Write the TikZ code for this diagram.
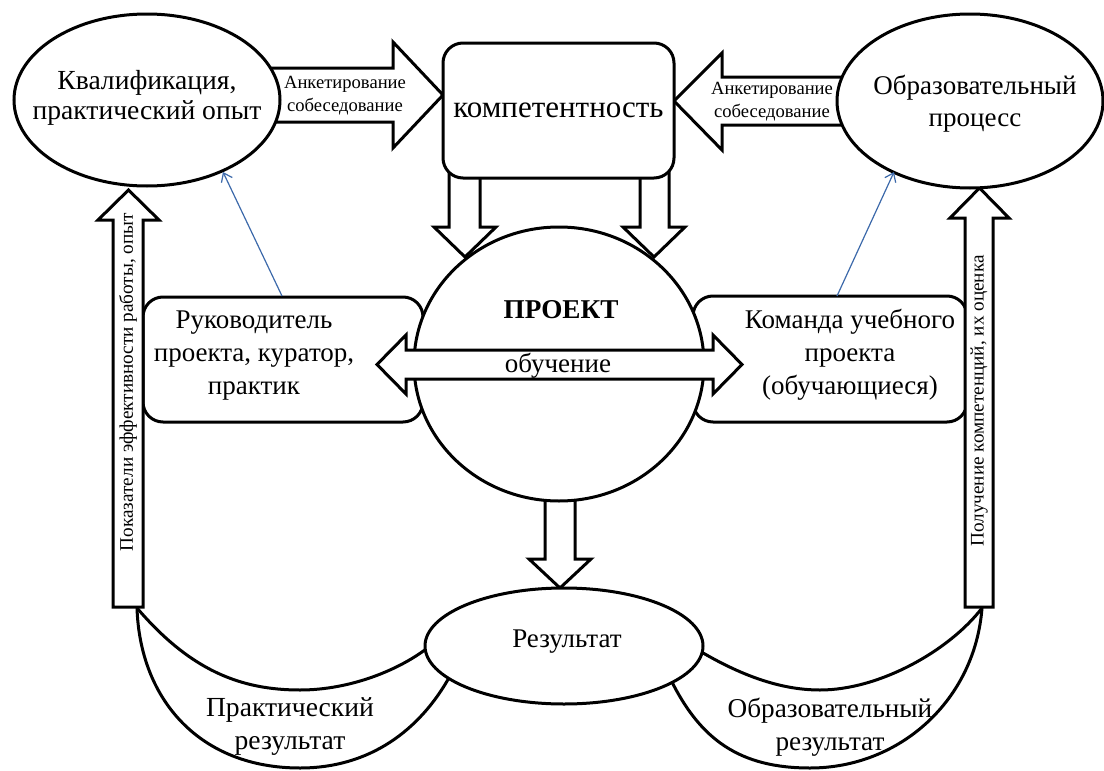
\documentclass[tikz,border=0pt]{standalone}
\usepackage{fontspec}
\setmainfont{Liberation Serif}
\usetikzlibrary{arrows.meta,shapes.geometric}
\definecolor{lineblue}{RGB}{60,105,170}
\begin{document}
\begin{tikzpicture}[x=0.5pt,y=0.5pt,
  blk/.style={draw=black, line width=1.5pt, fill=white, line join=miter},
  shapebox/.style={draw=black, line width=1.5pt, fill=white},
  ell/.style={shapebox, ellipse, inner sep=0pt},
  rbox/.style={shapebox, rectangle, rounded corners=10pt, inner sep=0pt},
  maintext/.style={font=\fontsize{13.8}{14.8}\selectfont, align=center},
  boxtext/.style={font=\fontsize{13.5}{16.5}\selectfont, align=center},
  smalltext/.style={font=\fontsize{9.3}{11.5}\selectfont, align=center},
  vtext/.style={font=\fontsize{9.6}{11}\selectfont, rotate=90},
  bluearrow/.style={draw=lineblue, line width=0.6pt, -{Straight Barb[length=4pt,width=6pt]}},
  curve/.style={draw=black, line width=1.5pt}
]
\useasboundingbox (0,0) rectangle (1104,-771);

% block arrows lying under shapes
\draw[blk] (260,-68) -- (393,-68) -- (393,-42) -- (443,-95) -- (393,-148) -- (393,-122) -- (260,-122) -- cycle;
\draw[blk] (860,-77) -- (722,-77) -- (722,-53) -- (674,-101) -- (722,-150) -- (722,-125) -- (860,-125) -- cycle;
\draw[blk] (449,-170) -- (449,-227) -- (434,-227) -- (465,-257) -- (496,-227) -- (480,-227) -- (480,-170) -- cycle;
\draw[blk] (640,-170) -- (640,-227) -- (623,-227) -- (654,-257) -- (685,-227) -- (669,-227) -- (669,-170) -- cycle;
\draw[blk] (545,-480) -- (545,-559) -- (529,-559) -- (560,-588) -- (591,-559) -- (575,-559) -- (575,-480) -- cycle;

% crescents
\draw[curve] (137,-608) .. controls (190,-670) and (240,-690) .. (300,-690) .. controls (350,-690) and (400,-670) .. (430,-646);
\draw[curve] (137,-608) .. controls (140,-700) and (200,-768) .. (300,-768) .. controls (370,-768) and (420,-730) .. (450,-676);
\draw[curve] (698,-650) .. controls (740,-675) and (780,-690) .. (820,-690) .. controls (880,-690) and (950,-650) .. (982,-608);
\draw[curve] (670,-678) .. controls (700,-740) and (740,-768) .. (810,-768) .. controls (900,-768) and (975,-700) .. (982,-608);

% side boxes
\node[rbox, minimum width=140pt, minimum height=62.5pt] (lrect) at (283,-359.5) {};
\node[rbox, minimum width=137pt, minimum height=63pt] (rrect) at (830,-359) {};
\node[rbox, minimum width=115.5pt, minimum height=67.5pt, font=\fontsize{15.5}{17}\selectfont] (komp) at (558.5,-110.5) {компетентность};

% vertical side arrows
\draw[blk] (113,-607) -- (113,-220) -- (98,-220) -- (128.5,-190) -- (159,-220) -- (143,-220) -- (143,-607) -- cycle;
\draw[blk] (965,-607) -- (965,-218) -- (950,-218) -- (979.5,-188) -- (1009,-218) -- (993,-218) -- (993,-607) -- cycle;

% ellipses
\node[ell, minimum width=133pt, minimum height=86pt] (kval) at (147,-100) {};
\node[ell, minimum width=133pt, minimum height=87pt] (obr) at (970,-101) {};
\node[ell, minimum width=139pt, minimum height=58pt] (res) at (564,-646) {};
\node[ell, minimum width=145pt, minimum height=137pt] (proj) at (559,-364) {};

% double arrow
\draw[blk] (377,-364.5) -- (406,-335) -- (406,-350) -- (713,-350) -- (713,-335) -- (742,-364.5) -- (713,-394) -- (713,-379) -- (406,-379) -- (406,-394) -- cycle;

% texts
\node[maintext] (kvalt) at (147,-98) {Квалификация,\\практический опыт};
\node[font=\fontsize{13.5}{16}\selectfont, align=center] (obrt) at (975,-104) {Образовательный\\процесс};
\node[font=\fontsize{13.5}{15}\selectfont] (rest) at (567,-642) {Результат};
\node[font=\fontsize{13.6}{15}\selectfont\bfseries] (projt) at (561,-310) {ПРОЕКТ};
\node[font=\fontsize{13.5}{15}\selectfont] (obuch) at (558,-366) {обучение};
\node[boxtext] (lrt) at (254,-356) {Руководитель\\проекта, куратор,\\практик};
\node[boxtext] (rrt) at (850,-355) {Команда учебного\\проекта\\(обучающиеся)};
\node[smalltext] (a1t) at (345,-96) {Анкетирование\\собеседование};
\node[smalltext] (a2t) at (772,-102) {Анкетирование\\собеседование};
\node[vtext] (vt1) at (128,-382) {Показатели эффективности работы, опыт};
\node[vtext] (vt2) at (979,-401) {Получение компетенций, их оценка};
\node[font=\fontsize{13.8}{16.5}\selectfont, align=center] (pr) at (290,-727) {Практический\\результат};
\node[font=\fontsize{13.6}{16.5}\selectfont, align=center] (orr) at (830,-727) {Образовательный\\результат};

% blue thin arrows
\coordinate (b1s) at (282,-296);
\coordinate (b1e) at (223,-172);
\coordinate (b2s) at (837,-296);
\coordinate (b2e) at (894,-172);
\draw[bluearrow] (b1s) -- (b1e);
\draw[bluearrow] (b2s) -- (b2e);
\end{tikzpicture}
\end{document}
